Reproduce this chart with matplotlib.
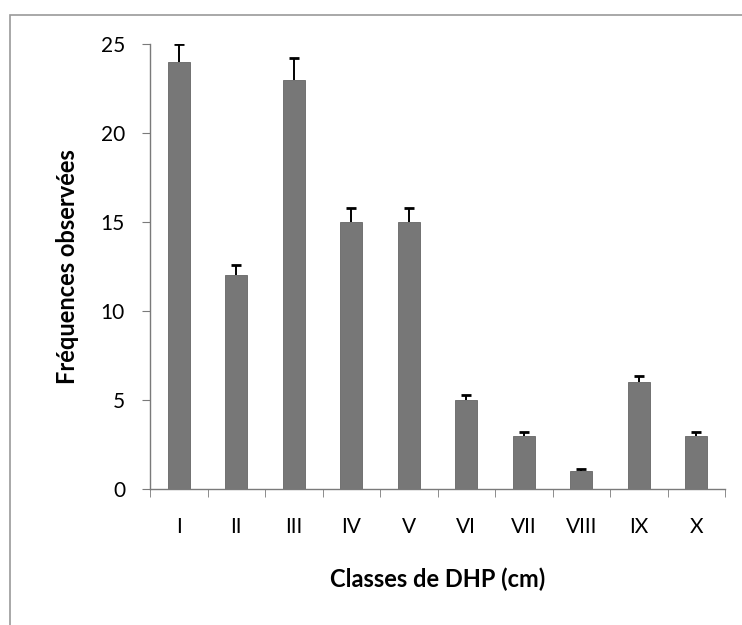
import matplotlib
matplotlib.use("Agg")
import matplotlib.pyplot as plt
import numpy as np
from matplotlib.patches import Rectangle

classes = ["I", "II", "III", "IV", "V", "VI", "VII", "VIII", "IX", "X"]
freq = [24, 12, 23, 15, 15, 5, 3, 1, 6, 3]
err = [1.0, 0.6, 1.2, 0.8, 0.8, 0.3, 0.2, 0.1, 0.35, 0.2]

plt.rcParams["font.family"] = ["Lato", "DejaVu Sans"]

fig = plt.figure(figsize=(7.42, 6.25), dpi=100)
# chart area border (scan is cropped on right/bottom)
fig.patches.append(Rectangle((10 / 742, -0.05), 1.2, 1 - 15 / 625 + 0.05,
                             transform=fig.transFigure, fill=False,
                             edgecolor="#9a9a9a", linewidth=1.2))

ax = fig.add_axes([150 / 742, 1 - 489 / 625, 575 / 742, 445 / 625])
x = np.arange(len(classes))
freq_a = np.asarray(freq, dtype=float)
err_a = np.asarray(err, dtype=float)
ax.bar(x, freq_a, width=0.39, color="#777777", edgecolor="#666666", linewidth=0.6,
       zorder=2)
# upper-only error bars, no cap at the bar top
ax.vlines(x, freq_a, freq_a + err_a, color="black", linewidth=1.4, zorder=3)
ax.hlines(freq_a + err_a, x - 0.09, x + 0.09, color="black", linewidth=2.0, zorder=3)

ax.set_xlim(-0.5, len(classes) - 0.5)
ax.set_ylim(0, 25)
ax.set_yticks([0, 5, 10, 15, 20, 25])

for s in ["top", "right"]:
    ax.spines[s].set_visible(False)
for s in ["left", "bottom"]:
    ax.spines[s].set_color("#7a7a7a")
    ax.spines[s].set_linewidth(1.0)

ax.set_xticks(x)
ax.set_xticklabels(classes)
ax.set_xticks(np.arange(len(classes) + 1) - 0.5, minor=True)
ax.tick_params(axis="x", which="major", length=0, pad=20, labelsize=15)
ax.tick_params(axis="x", which="minor", length=6, color="#7a7a7a", direction="out")
ax.tick_params(axis="y", length=6, color="#7a7a7a", labelsize=15, pad=12)

ax.set_xlabel("Classes de DHP (cm)", fontsize=17, fontweight="bold", labelpad=22)
ax.set_ylabel("Fréquences observées", fontsize=17, fontweight="bold", labelpad=16)

fig.savefig("out.png", dpi=100)
